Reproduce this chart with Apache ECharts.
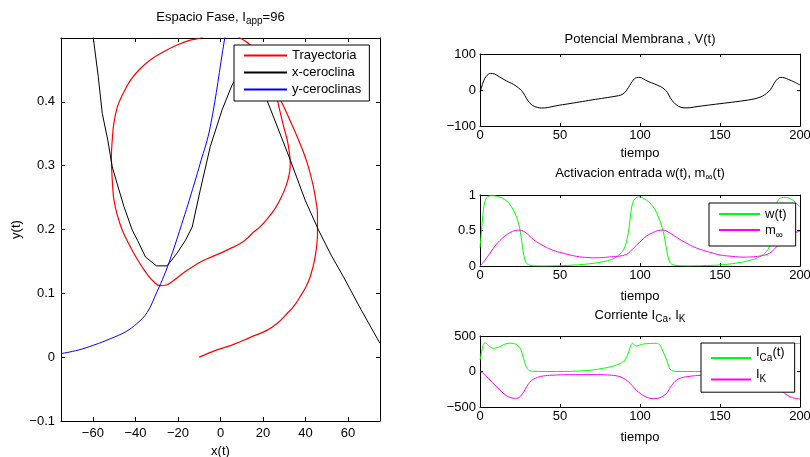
<!DOCTYPE html>
<html><head><meta charset="utf-8">
<script src="https://cdn.jsdelivr.net/npm/echarts@6/dist/echarts.min.js"></script>
<style>html,body{margin:0;padding:0;background:#fff}#c{width:810px;height:457px}</style>
</head><body><div id="c"></div>
<script>
// ---------- Phase plane data ----------
const trajX = [-10, -2, 6.2, 14, 21.8, 27, 31.2, 34.5, 37.5, 40, 42.2, 44.5, 45.6, 45.6, 44.8, 43.5, 40.6, 37, 33.5, 30.8, 28, 24, 19.5, 14, 9.3, 4.5, 0, -4.5, -9.5];
const trajY = [0, 0.011, 0.020, 0.031, 0.042, 0.054, 0.068, 0.080, 0.095, 0.109, 0.126, 0.157, 0.194, 0.225, 0.246, 0.270, 0.306, 0.338, 0.365, 0.385, 0.405, 0.437, 0.468, 0.489, 0.500, 0.507, 0.510, 0.507, 0.500];
const cycleX = [-15, -20.4, -26.5, -32.9, -38, -42.3, -45.8, -48.5, -50.2, -50.9, -51.3, -51.2, -50.8, -50.1, -48.5, -46.3, -43.5, -40.3, -37, -33.8, -31, -28.5, -25.5, -22.5, -19, -15.7, -12.5, -9.5, -5, 0, 4.5, 9.3, 12.5, 15.6, 18.8, 21.8, 25.5, 28.5, 31, 32.5, 32.8, 32.4, 31.4, 29.8, 27.6, 25, 20, 14, 9.3, 4.5, 0, -4.5, -9.5];
const cycleY = [0.496, 0.489, 0.479, 0.466, 0.451, 0.434, 0.413, 0.392, 0.365, 0.340, 0.315, 0.298, 0.272, 0.246, 0.222, 0.200, 0.180, 0.160, 0.142, 0.127, 0.117, 0.112, 0.113, 0.119, 0.128, 0.136, 0.143, 0.149, 0.156, 0.163, 0.170, 0.178, 0.186, 0.196, 0.205, 0.216, 0.232, 0.250, 0.270, 0.290, 0.305, 0.320, 0.340, 0.360, 0.390, 0.428, 0.462, 0.489, 0.500, 0.507, 0.510, 0.507, 0.500];
const xNullX = [-60.5, -59.8, -57.5, -55.6, -53, -50.9, -48, -45.4, -41.5, -39, -35.3, -30.1, -25.1, -20.4, -16.5, -13.3, -9.5, -4.8, 0.7, 5.4, 8, 13, 18, 21.8, 32.8, 39.8, 46.1, 52, 57.8, 66, 75];
const xNullY = [0.52, 0.5, 0.44, 0.382, 0.34, 0.298, 0.265, 0.236, 0.199, 0.183, 0.157, 0.143, 0.143, 0.163, 0.183, 0.204, 0.262, 0.330, 0.387, 0.426, 0.44, 0.445, 0.425, 0.403, 0.309, 0.246, 0.199, 0.16, 0.126, 0.075, 0.0215];
const yNullX = [-75, -67, -59.5, -51.7, -44.5, -39.2, -34.5, -29.8, -26.5, -23.5, -20, -17.6, -14.5, -9.5, -4.8, 2.0, 2.7];
const yNullY = [0.0055, 0.011, 0.019, 0.029, 0.040, 0.053, 0.070, 0.103, 0.128, 0.155, 0.19, 0.215, 0.248, 0.304, 0.361, 0.5, 0.51];

// ---------- Time series data ----------
const vT = [0,1,2,3,4.5,6.5,9,12,15,18,21,24,26,28,30,32,34,36,38.5,42,48,55,62,70,78,85,88,90.5,92,93.5,95,96.5,98,100,102,105,109,113,115,117,119,121,123,125,127.5,130,135,140,150,160,170,175,178,180,181.5,183,184.5,186,188,190,193,196,200];
const vVal = [-5,8,22,32,41,46,44.5,37,29,22,15.5,6,-2,-15,-30,-40,-45.5,-48.5,-50,-49,-43.5,-38.5,-33.5,-27.5,-22,-17,-14,-7,2,12,23,31,34.5,35,31,24,17,9,3,-6,-22,-34,-42,-47,-49.5,-49.5,-46.5,-43.5,-38,-32.5,-26,-20,-13,-6,1,12,23,31,35,34,29,23,14];

const wT = [0,0.8,1.5,2.2,3,4,5.5,8,11,14,17,19.5,21.5,23,24.3,25.3,26.2,27,28,29,30.5,33,40,50,60,70,77,82,85.5,88,90,91.5,92.7,93.8,94.8,96,97.5,99,101,104,107,109.5,111.5,113,114.6,115.8,116.7,117.6,118.5,119.8,122,128,140,150,160,168,175,179,181,182,183.2,184.3,185.4,186.8,188.5,191,194,197,200];
const wVal = [0.26,0.45,0.65,0.8,0.9,0.96,0.985,0.99,0.98,0.955,0.91,0.84,0.76,0.68,0.58,0.47,0.33,0.2,0.09,0.04,0.015,0.003,0,0.005,0.015,0.035,0.06,0.09,0.13,0.18,0.24,0.34,0.47,0.66,0.83,0.92,0.96,0.975,0.965,0.93,0.87,0.79,0.69,0.6,0.48,0.34,0.22,0.12,0.06,0.025,0.008,0.002,0.005,0.015,0.04,0.075,0.13,0.2,0.28,0.36,0.52,0.72,0.88,0.94,0.965,0.965,0.95,0.9,0.83];

const mT = [0,2,4,6.25,9,12.5,15.5,18.75,22,25,27,29.2,32,35.4,40,45.8,51,56.25,62,66.7,72,77,82,87.5,90.5,92.7,95,97.9,101,104,108,111.5,114.6,117.5,120.8,124.5,129.2,134,139.6,145,150,158,165,170.8,176,181,184.5,187.5,190.5,193.75,197,200];
const mVal = [0,0.05,0.11,0.18,0.27,0.36,0.42,0.47,0.5,0.505,0.49,0.46,0.4,0.34,0.28,0.22,0.185,0.155,0.13,0.12,0.115,0.12,0.13,0.14,0.155,0.18,0.23,0.295,0.36,0.42,0.47,0.5,0.505,0.48,0.435,0.38,0.32,0.265,0.22,0.185,0.155,0.135,0.125,0.13,0.145,0.18,0.25,0.32,0.38,0.43,0.47,0.49];

const caT = [0,1,2,3,4,5.2,7,8.3,10.5,12.5,15,17.5,20,22,24,25.5,26.5,27.5,28.5,29.5,31,33,40,50,60,70,77,82,85.4,88.5,90.6,92,93.3,94.3,95.2,96.5,97.9,100,102,106,110.4,112.5,113.5,115,116.7,117.8,118.75,120.5,123,130,150,165,175,180,182,183.5,184.5,186,188,192,196,200];
const caVal = [160,280,370,405,395,370,335,327,335,350,380,397,398,388,360,310,240,160,90,40,12,3,0,0,5,20,45,68,92,125,162,220,303,370,397,375,360,375,387,395,397,375,327,250,162,85,31,8,0,0,3,15,45,110,200,330,390,370,365,385,395,395];

const kT = [0,2,4,6.25,9,12.5,15,17.7,20,22.9,24.5,26,27.5,29.2,31,33.3,36,39.6,45,56,70,77,82,85,87.5,90,92,93.75,96,98,100,103,106.25,109,112.5,114.5,116.7,118.5,120.8,123,125,127,132,137.5,145,155,165,172,178,182,185,188,190.5,193.75,197,200];
const kVal = [0,-25,-65,-120,-185,-260,-315,-355,-372,-378,-365,-331,-280,-214,-155,-110,-82,-63,-52,-45,-44,-45,-52,-60,-73,-100,-130,-166,-220,-270,-307,-350,-378,-382,-369,-345,-307,-240,-166,-120,-96,-82,-65,-54,-48,-46,-48,-55,-80,-130,-190,-260,-310,-355,-378,-387];

// ---------- Tick values ----------
const phaseXTicks = [-60, -40, -20, 0, 20, 40, 60];
const phaseYTicks = [-0.1, 0, 0.1, 0.2, 0.3, 0.4];
const timeTicks = [0, 50, 100, 150, 200];
const vTicks = [-100, 0, 100];
const actTicks = [0, 0.5, 1];
const curTicks = [-500, 0, 500];

// ---------- Build option ----------
const FONT = '"Liberation Sans", Arial, Helvetica, sans-serif';
const fmt = v => String(Math.round(v * 1000) / 1000).replace('-', '\u2212');
const pairs = (xs, ys) => xs.map((x, i) => [x, ys[i]]);

function axes(kind, gi, min, max, ticks, tickLen, margin, name, nameGap) {
  const mk = () => ({
    type: 'value', gridIndex: gi, min: min, max: max,
    axisLine: {show: true, onZero: false, lineStyle: {color: '#000', width: 1}},
    splitLine: {show: false},
    axisTick: {show: true, inside: true, length: tickLen, customValues: ticks.slice(), lineStyle: {color: '#000', width: 1}}
  });
  const main = mk();
  main.position = kind === 'x' ? 'bottom' : 'left';
  main.axisLabel = {show: true, customValues: ticks.slice(), formatter: fmt, color: '#000', fontSize: 13, fontFamily: FONT, margin: margin};
  if (name) {
    main.name = name; main.nameLocation = 'middle'; main.nameGap = nameGap;
    main.nameTextStyle = {color: '#000', fontSize: 13, fontFamily: FONT};
  }
  const mirror = mk();
  mirror.position = kind === 'x' ? 'top' : 'right';
  mirror.axisLabel = {show: false};
  return [main, mirror];
}

const xAxis = [].concat(
  axes('x', 0, -75, 75, phaseXTicks, 4, 6, 'x(t)', 23),
  axes('x', 1, 0, 200, timeTicks, 3, 3, 'tiempo', 21),
  axes('x', 2, 0, 200, timeTicks, 3, 3, 'tiempo', 24),
  axes('x', 3, 0, 200, timeTicks, 3, 3, 'tiempo', 24)
);
const yAxis = [].concat(
  axes('y', 0, -0.1, 0.5, phaseYTicks, 4, 6, 'y(t)', 38),
  axes('y', 1, -100, 100, vTicks, 3, 4),
  axes('y', 2, 0, 1, actTicks, 3, 4),
  axes('y', 3, -500, 500, curTicks, 3, 4)
);

function line(name, data, color, axisIdx, extra) {
  return Object.assign({
    type: 'line', name: name, data: data, xAxisIndex: axisIdx, yAxisIndex: axisIdx,
    symbol: 'none', showSymbol: false, color: color, clip: true, animation: false,
    lineStyle: {color: color, width: 1}, itemStyle: {color: color}, emphasis: {disabled: true}
  }, extra || {});
}

const trajectory = pairs(trajX, trajY).concat(pairs(cycleX, cycleY), pairs(cycleX, cycleY));

const series = [
  line('Trayectoria', trajectory, '#ff0000', 0, {smooth: 0.4, lineStyle: {color: '#ff0000', width: 1.2}}),
  line('x-ceroclina', pairs(xNullX, xNullY), '#000000', 0),
  line('y-ceroclinas', pairs(yNullX, yNullY), '#0000ff', 0, {smooth: 0.4}),
  line('V(t)', pairs(vT, vVal), '#000000', 2, {smooth: 0.4}),
  line('w(t)', pairs(wT, wVal), '#00ff00', 4, {smooth: 0.3}),
  line('m_inf', pairs(mT, mVal), '#ff00ff', 4, {smooth: 0.4}),
  line('I_Ca(t)', pairs(caT, caVal), '#00ff00', 6, {smooth: 0.3}),
  line('I_K', pairs(kT, kVal), '#ff00ff', 6, {smooth: 0.4})
];

const titleRich = (subLH) => ({
  a: {fontSize: 13, lineHeight: 18, color: '#000', fontFamily: FONT, fontWeight: 'normal'},
  b: {fontSize: 10, lineHeight: subLH, verticalAlign: 'bottom', color: '#000', fontFamily: FONT, fontWeight: 'normal'}
});
const titleStyle = (subLH) => ({fontWeight: 'normal', fontSize: 13, color: '#000', fontFamily: FONT, rich: titleRich(subLH)});
const title = [
  {text: '{a|Espacio Fase, I}{b|app}{a|=96}', left: 220.5, top: 8, textAlign: 'center', padding: 0, textStyle: titleStyle(8)},
  {text: '{a|Potencial Membrana , V(t)}', left: 640, top: 30, textAlign: 'center', padding: 0, textStyle: titleStyle(8)},
  {text: '{a|Activacion entrada w(t), m}{b|\u221e}{a|(t)}', left: 640, top: 164, textAlign: 'center', padding: 0, textStyle: titleStyle(4)},
  {text: '{a|Corriente I}{b|Ca}{a|, I}{b|K}', left: 640, top: 306, textAlign: 'center', padding: 0, textStyle: titleStyle(6)}
];

function legendCfg(extra) {
  return Object.assign({
    orient: 'vertical', backgroundColor: '#fff', borderColor: '#000', borderWidth: 1, borderRadius: 0,
    selectedMode: false,
    itemStyle: {opacity: 0, borderWidth: 0}
  }, extra);
}
const legend = [
  legendCfg({
    data: ['Trayectoria', 'x-ceroclina', 'y-ceroclinas'], left: 234, top: 45, padding: [4, 8, 5, 9],
    itemWidth: 43, itemHeight: 13, itemGap: 4,
    textStyle: {color: '#000', fontSize: 13, fontFamily: FONT, lineHeight: 13}
  }),
  legendCfg({
    data: ['w(t)', 'm_inf'], left: 709, top: 203, padding: [3, 9, 6, 9],
    itemWidth: 41, itemHeight: 20, itemGap: 0,
    formatter: n => n === 'w(t)' ? '{a|w(t)}' : '{a|m}{b|\u221e}',
    textStyle: {color: '#000', fontSize: 13, fontFamily: FONT, rich: {
      a: {fontSize: 13, lineHeight: 20, color: '#000', fontFamily: FONT},
      b: {fontSize: 10, lineHeight: 10, verticalAlign: 'bottom', color: '#000', fontFamily: FONT}
    }}
  }),
  legendCfg({
    data: ['I_Ca(t)', 'I_K'], left: 701, top: 343, padding: [3, 10, 3, 9],
    itemWidth: 40, itemHeight: 24, itemGap: 0,
    formatter: n => n === 'I_Ca(t)' ? '{a|I}{b|Ca}{a|(t)}' : '{a|I}{b|K}',
    textStyle: {color: '#000', fontSize: 13, fontFamily: FONT, rich: {
      a: {fontSize: 13, lineHeight: 24, verticalAlign: 'top', color: '#000', fontFamily: FONT},
      b: {fontSize: 10, lineHeight: 10, verticalAlign: 'middle', color: '#000', fontFamily: FONT}
    }}
  })
];

const option = {
  backgroundColor: '#fff',
  animation: false,
  title: title,
  legend: legend,
  grid: [
    {left: 61, top: 38, width: 319, height: 383, containLabel: false, outerBoundsMode: 'none'},
    {left: 480, top: 54, width: 320, height: 72, containLabel: false, outerBoundsMode: 'none'},
    {left: 480, top: 195, width: 320, height: 71, containLabel: false, outerBoundsMode: 'none'},
    {left: 480, top: 336, width: 320, height: 71, containLabel: false, outerBoundsMode: 'none'}
  ],
  xAxis: xAxis,
  yAxis: yAxis,
  series: series
};

const chart = echarts.init(document.getElementById('c'), null, {renderer: 'canvas'});
chart.setOption(option);
</script></body></html>
